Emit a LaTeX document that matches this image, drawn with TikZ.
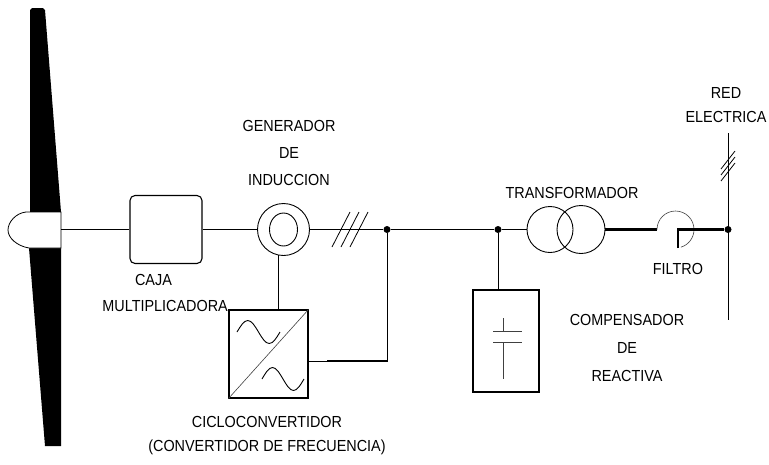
\documentclass[tikz,border=0pt]{standalone}
\usepackage{fontspec}
\setmainfont{Liberation Sans}[FakeStretch=0.9]
\usetikzlibrary{calc}

\begin{document}
\begin{tikzpicture}[x=1pt, y=-1pt,
  wire/.style={line width=0.9pt},
  heavy/.style={line width=2.2pt},
  fine/.style={line width=0.6pt, black!75},
  tick/.style={line width=0.8pt},
  lbl/.style={font=\fontsize{16}{27}\selectfont, inner sep=0pt, align=center},
  jdot/.style={circle, fill, inner sep=0pt, minimum size=7pt},
  unit/.style={draw, line width=1.1pt, inner sep=0pt, rectangle},
  ring/.style={circle, draw, line width=0.9pt, inner sep=0pt}]
\useasboundingbox (0,0) rectangle (769,464);

% rotor blades
\fill (30,212) -- (30,10) -- (32,8) -- (43,8) -- (45,10) -- (61,212) -- cycle;
\fill (29,248) -- (61,248) -- (61,446) -- (45,446) -- cycle;
% hub with nose cone
\filldraw[fill=white, draw=black, line width=0.8pt]
  (61,212) -- (26,212) .. controls (16,213) and (8,222) .. (8,230)
  .. controls (8,238) and (17,246) .. (29,248) -- (61,248) -- cycle;
\coordinate (hub) at (61,229.5);

% components
\node[unit, rounded corners=5pt, minimum width=72pt, minimum height=68pt] (gear) at (166,229.5) {};
\node[ring, minimum size=52pt] (gen) at (283.5,229.5) {};
\draw[wire] (gen.center) ellipse [x radius=14, y radius=16.5];
\node[unit, minimum width=79pt, minimum height=88pt] (conv) at (268.5,354) {};
\node[jdot] (j1) at (387,229.5) {};
\node[jdot] (j2) at (498,229.5) {};
\node[ring, minimum size=46pt] (t1) at (550,229.5) {};
\node[ring, minimum size=48pt] (t2) at (581,229.5) {};
\node[unit, minimum width=66pt, minimum height=102pt] (cap) at (506,341) {};
\node[jdot] (j3) at (728,229.5) {};
\coordinate (gridtop) at (728,133);
\coordinate (gridbot) at (728,320);
\coordinate (fin) at (657,229.5);
\coordinate (fbr) at (678,248);
\coordinate (cin) at (308,361);
\coordinate (cturn) at (327,361);

% drive train and main bus
\draw[wire] (hub) -- (gear.west);
\draw[wire] (gear.east) -- (gen.west);
\draw[wire] (gen.east) -- (j1);
\draw[wire] (j1) -- (j2);
\draw[wire] (j2) -- (t1.west);
\draw[heavy] (t2.east) -- (fin);

% three-phase ticks on the bus
\foreach \c in {341,350,359}
  \draw[tick] (\c-9,247) -- (\c+9,212);

% frequency converter
\draw[wire] (gen.-102) -- (gen.-102 |- conv.north);
\draw[wire] (j1) |- (cin);
\draw[heavy] (j1 |- cin) -- (cturn);
\draw[fine] (conv.south west) -- (conv.north east);
\draw[wire] (237,332) sin (247.75,320.5) cos (258.5,332) sin (269.25,343.5) cos (280,332);
\draw[wire] (262,379) sin (272.5,367.5) cos (283,379) sin (293.5,390.5) cos (304,379);

% reactive compensation
\draw[wire] (j2) -- (j2 |- cap.north);
\draw[fine] (503,318) -- (503,331);
\draw[fine] (493,331) -- (522,331);
\draw[fine] (493,342) -- (522,342);
\draw[fine] (503,342) -- (503,379);

% filter
\draw[fine] (fin) arc[start angle=180, end angle=433, radius=18.5];
\draw[heavy] (fbr) |- (j3);

% grid connection
\draw[wire] (gridtop) -- (gridbot);
\foreach \c in {160,166,172}
  \draw[tick] (721,\c+9) -- (735,\c-9);

% labels
\node[lbl] (lgen) at (289,153) {GENERADOR\\DE\\INDUCCION};
\node[lbl] (lgear1) at (153.5,280) {CAJA};
\node[lbl, anchor=east] (lgear2) at (228,306) {MULTIPLICADORA};
\node[lbl, font=\fontsize{16}{24}\selectfont] (lconv) at (267,436) {CICLOCONVERTIDOR\\(CONVERTIDOR DE FRECUENCIA)};
\node[lbl] (ltr) at (572,192.5) {TRANSFORMADOR};
\node[lbl] (lfil) at (678,269) {FILTRO};
\node[lbl, font=\fontsize{16}{28}\selectfont] (lcap) at (627,348) {COMPENSADOR\\DE\\REACTIVA};
\node[lbl, font=\fontsize{16}{24}\selectfont] (lred) at (726,105) {RED\\ELECTRICA};
\end{tikzpicture}
\end{document}
